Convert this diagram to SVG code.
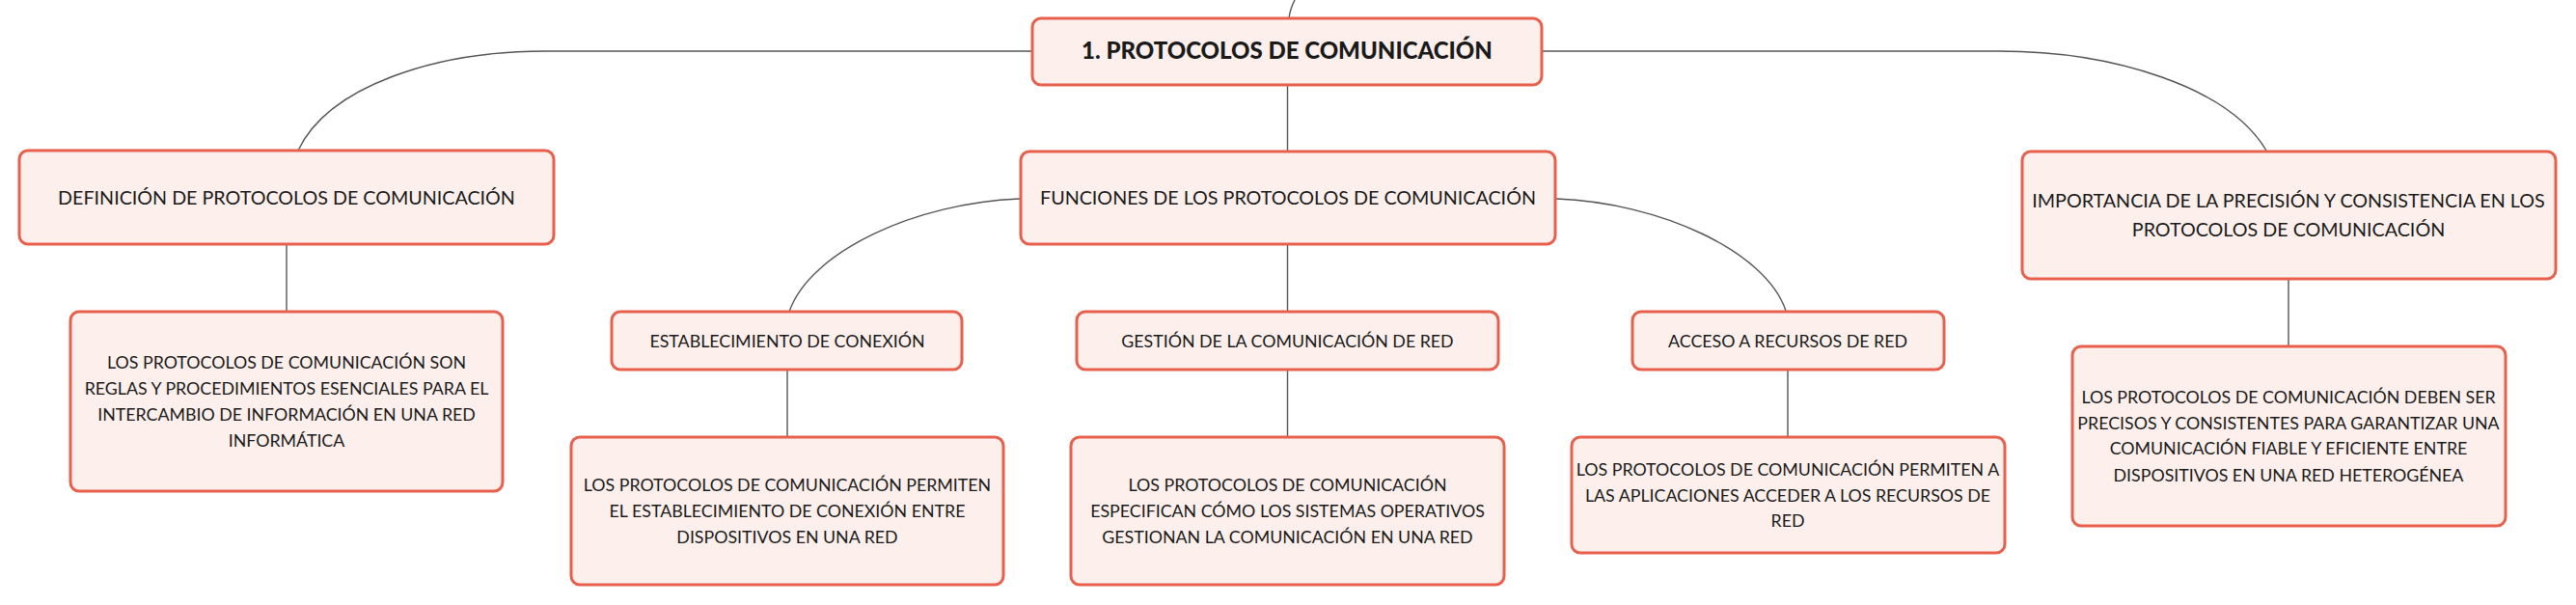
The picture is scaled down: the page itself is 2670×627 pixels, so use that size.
<svg xmlns="http://www.w3.org/2000/svg" width="2670" height="627" viewBox="0 0 2670 627">
<style>
.box{fill:#FDF0EC;stroke:#E8604C;stroke-width:3}
.t{font-family:Lato,"Open Sans","Liberation Sans",sans-serif;fill:#1a1a1a;text-anchor:middle}
.l1{font-size:19.7px}
.l2{font-size:17.8px}
.root{font-size:24px;font-weight:900}
.c{fill:none;stroke:#555;stroke-width:1.4}
</style>
<rect width="2670" height="627" fill="#ffffff"/>
<g id="connectors">
<path class="c" d="M1336,19 C1337,10 1340,4 1342,0"/>
<path class="c" d="M1070,53 H565 C450,53 340,90 309,156"/>
<path class="c" d="M1598,53 H2072 C2190,53 2310,90 2349,156"/>
<path class="c" d="M1334.5,88 V157"/>
<path class="c" d="M297,253 V323"/>
<path class="c" d="M1334.5,253 V323"/>
<path class="c" d="M1057,206 C950,210 840,260 818,323"/>
<path class="c" d="M1613,206 C1720,210 1830,260 1851,322"/>
<path class="c" d="M816,383 V453"/>
<path class="c" d="M1334.5,383 V453"/>
<path class="c" d="M1853,383 V453"/>
<path class="c" d="M2372,289 V359"/>
</g>
<g id="root">
<rect class="box" x="1070" y="19" width="528" height="69" rx="9"/>
<text class="t root" x="1334" y="61">1. PROTOCOLOS DE COMUNICACIÓN</text>
</g>
<g id="definicion">
<rect class="box" x="20" y="156" width="554" height="97" rx="9"/>
<text class="t l1" x="297" y="212">DEFINICIÓN DE PROTOCOLOS DE COMUNICACIÓN</text>
</g>
<g id="funciones">
<rect class="box" x="1058" y="157" width="554" height="96" rx="9"/>
<text class="t l1" x="1335" y="212">FUNCIONES DE LOS PROTOCOLOS DE COMUNICACIÓN</text>
</g>
<g id="importancia">
<rect class="box" x="2096" y="157" width="553" height="132" rx="9"/>
<text class="t l1" x="2372" y="215">IMPORTANCIA DE LA PRECISIÓN Y CONSISTENCIA EN LOS</text>
<text class="t l1" x="2372" y="245">PROTOCOLOS DE COMUNICACIÓN</text>
</g>
<g id="definicion-detalle">
<rect class="box" x="73" y="323" width="448" height="186" rx="9"/>
<text class="t l2" x="297" y="382">LOS PROTOCOLOS DE COMUNICACIÓN SON</text>
<text class="t l2" x="297" y="409">REGLAS Y PROCEDIMIENTOS ESENCIALES PARA EL</text>
<text class="t l2" x="297" y="436">INTERCAMBIO DE INFORMACIÓN EN UNA RED</text>
<text class="t l2" x="297" y="463">INFORMÁTICA</text>
</g>
<g id="establecimiento">
<rect class="box" x="634" y="323" width="363" height="60" rx="9"/>
<text class="t l2" x="816" y="360">ESTABLECIMIENTO DE CONEXIÓN</text>
</g>
<g id="gestion">
<rect class="box" x="1116" y="323" width="437" height="60" rx="9"/>
<text class="t l2" x="1334.5" y="360">GESTIÓN DE LA COMUNICACIÓN DE RED</text>
</g>
<g id="acceso">
<rect class="box" x="1692" y="323" width="323" height="60" rx="9"/>
<text class="t l2" x="1853" y="360">ACCESO A RECURSOS DE RED</text>
</g>
<g id="establecimiento-detalle">
<rect class="box" x="592" y="453" width="448" height="153" rx="9"/>
<text class="t l2" x="816" y="509">LOS PROTOCOLOS DE COMUNICACIÓN PERMITEN</text>
<text class="t l2" x="816" y="536">EL ESTABLECIMIENTO DE CONEXIÓN ENTRE</text>
<text class="t l2" x="816" y="563">DISPOSITIVOS EN UNA RED</text>
</g>
<g id="gestion-detalle">
<rect class="box" x="1110" y="453" width="449" height="153" rx="9"/>
<text class="t l2" x="1334.5" y="509">LOS PROTOCOLOS DE COMUNICACIÓN</text>
<text class="t l2" x="1334.5" y="536">ESPECIFICAN CÓMO LOS SISTEMAS OPERATIVOS</text>
<text class="t l2" x="1334.5" y="563">GESTIONAN LA COMUNICACIÓN EN UNA RED</text>
</g>
<g id="acceso-detalle">
<rect class="box" x="1629" y="453" width="449" height="120" rx="9"/>
<text class="t l2" x="1853" y="493">LOS PROTOCOLOS DE COMUNICACIÓN PERMITEN A</text>
<text class="t l2" x="1853" y="520">LAS APLICACIONES ACCEDER A LOS RECURSOS DE</text>
<text class="t l2" x="1853" y="546">RED</text>
</g>
<g id="importancia-detalle">
<rect class="box" x="2148" y="359" width="449" height="186" rx="9"/>
<text class="t l2" x="2372" y="418">LOS PROTOCOLOS DE COMUNICACIÓN DEBEN SER</text>
<text class="t l2" x="2372" y="445">PRECISOS Y CONSISTENTES PARA GARANTIZAR UNA</text>
<text class="t l2" x="2372" y="471">COMUNICACIÓN FIABLE Y EFICIENTE ENTRE</text>
<text class="t l2" x="2372" y="499">DISPOSITIVOS EN UNA RED HETEROGÉNEA</text>
</g>
</svg>
